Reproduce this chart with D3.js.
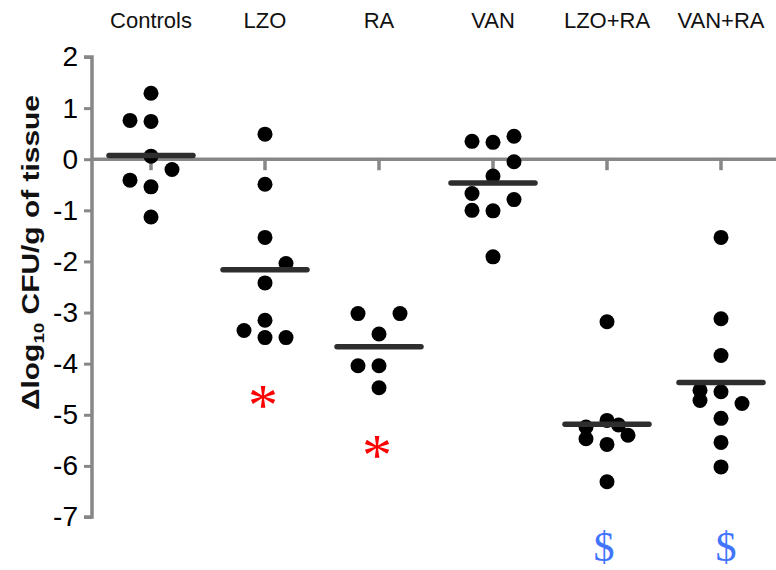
<!DOCTYPE html>
<html>
<head>
<meta charset="utf-8">
<script src="https://cdn.jsdelivr.net/npm/d3@7"></script>
<style>
  html, body { margin: 0; padding: 0; background: #fff; }
  svg { display: block; }
</style>
</head>
<body>
<svg id="chart" width="776" height="570"></svg>
<script>
// ---- data ----
const categories = ["Controls", "LZO", "RA", "VAN", "LZO+RA", "VAN+RA"];
const controls     = [1.29, 0.76, 0.74, 0.06, -0.20, -0.41, -0.54, -1.13];
const controlsSlot = [0, -1, 0, 0, 1, -1, 0, 0];
const lzo          = [0.49, -0.49, -1.53, -2.04, -2.42, -3.15, -3.35, -3.49, -3.49];
const lzoSlot      = [0, 0, 0, 1, 0, 0, -1, 0, 1];
const ra           = [-3.02, -3.02, -3.42, -4.04, -4.04, -4.47];
const raSlot       = [-1, 1, 0, -1, 0, 0];
const van          = [0.45, 0.35, 0.33, -0.05, -0.33, -0.67, -0.79, -1.00, -1.01, -1.91];
const vanSlot      = [1, -1, 0, 1, 0, -1, 1, -1, 0, 0];
const lzoRa        = [-3.18, -5.11, -5.20, -5.24, -5.40, -5.47, -5.58, -6.31];
const lzoRaSlot    = [0, 0, 0.55, -1, 1, -1, 0, 0];
const vanRa        = [-1.53, -3.12, -3.84, -4.52, -4.55, -4.72, -4.78, -5.07, -5.54, -6.02];
const vanRaSlot    = [0, 0, 0, -1, 0, -1, 1, 0, 0, 0];
const yTicks = [2, 1, 0, -1, -2, -3, -4, -5, -6, -7];
const asteriskGroups = ["LZO", "RA"];       // red * (significance vs controls)
const dollarGroups   = ["LZO+RA", "VAN+RA"]; // blue $

const seriesValues = [controls, lzo, ra, van, lzoRa, vanRa];
const seriesSlots  = [controlsSlot, lzoSlot, raSlot, vanSlot, lzoRaSlot, vanRaSlot];

// ---- layout ----
const W = 776, H = 570;
const axisX = 92;
const svg = d3.select("#chart");

const x = d3.scalePoint().domain(categories).range([151, 721]);
const y = d3.scaleLinear().domain([-7, 2]).range([517, 57]);
const slotW = 21, r = 7.5, meanHalf = 42;
const gray = "#878787";

// y axis
const yAxis = d3.axisLeft(y).tickValues(yTicks).tickSize(8).tickPadding(6)
  .tickFormat(d => String(d));
const gy = svg.append("g").attr("transform", `translate(${axisX},0)`).call(yAxis);
gy.select(".domain").attr("stroke", gray).attr("stroke-width", 3.5)
  .attr("d", `M-8,${y(2)}H0V${y(-7)}H-8`);
gy.selectAll(".tick line").attr("stroke", gray).attr("stroke-width", 3);
gy.selectAll(".tick text")
  .attr("font-family", "Liberation Sans, Arial, sans-serif")
  .attr("font-size", 28).attr("fill", "#000");

// zero line
svg.append("line").attr("x1", axisX).attr("x2", W)
  .attr("y1", y(0)).attr("y2", y(0))
  .attr("stroke", gray).attr("stroke-width", 3.5);

// category ticks hanging from zero line
svg.append("g").selectAll("line").data(categories).join("line")
  .attr("x1", d => x(d)).attr("x2", d => x(d))
  .attr("y1", y(0)).attr("y2", y(0) + 11)
  .attr("stroke", gray).attr("stroke-width", 3.5);

// category labels on top
svg.append("g").selectAll("text").data(categories).join("text")
  .attr("x", d => x(d)).attr("y", 28)
  .attr("text-anchor", "middle")
  .attr("font-family", "Liberation Sans, Arial, sans-serif")
  .attr("font-size", 22).attr("fill", "#111")
  .text(d => d);

// dots
const groups = svg.append("g").selectAll("g").data(categories).join("g");
groups.each(function(cat, i) {
  const vals = seriesValues[i], slots = seriesSlots[i];
  d3.select(this).selectAll("circle").data(vals).join("circle")
    .attr("cx", (v, j) => x(cat) + slots[j] * slotW)
    .attr("cy", v => y(v))
    .attr("r", r).attr("fill", "#000");
});

// mean lines
svg.append("g").selectAll("line").data(categories).join("line")
  .attr("x1", d => x(d) - meanHalf).attr("x2", d => x(d) + meanHalf)
  .attr("y1", (d, i) => y(d3.mean(seriesValues[i])))
  .attr("y2", (d, i) => y(d3.mean(seriesValues[i])))
  .attr("stroke", "#2e2e2e").attr("stroke-width", 5.5).attr("stroke-linecap", "round");

// red asterisks below the lowest point
svg.append("g").selectAll("text").data(asteriskGroups).join("text")
  .attr("x", d => x(d) - 2)
  .attr("y", d => y(d3.min(seriesValues[categories.indexOf(d)])) + 87)
  .attr("text-anchor", "middle")
  .attr("font-family", "Liberation Serif, Times New Roman, serif")
  .attr("font-size", 60).attr("fill", "#ff0000")
  .text("*");

// blue dollar signs at the bottom
svg.append("g").selectAll("text").data(dollarGroups).join("text")
  .attr("x", d => x(d) + (d === "LZO+RA" ? -3 : 5))
  .attr("y", H - 9)
  .attr("text-anchor", "middle")
  .attr("font-family", "Liberation Serif, Times New Roman, serif")
  .attr("font-size", 42).attr("fill", "#4275ff")
  .text("$");

// y axis title
const title = svg.append("text")
  .attr("transform", `translate(39,${(95 + 410) / 2}) rotate(-90)`)
  .attr("text-anchor", "middle")
  .attr("textLength", 315).attr("lengthAdjust", "spacingAndGlyphs")
  .attr("font-family", "Liberation Sans, Arial, sans-serif")
  .attr("font-weight", "bold").attr("font-size", 24).attr("fill", "#111");
title.append("tspan").text("\u0394log");
title.append("tspan").attr("font-size", 15).attr("dy", 5).text("10");
title.append("tspan").attr("dy", -5).text(" CFU/g of tissue");
</script>
</body>
</html>
